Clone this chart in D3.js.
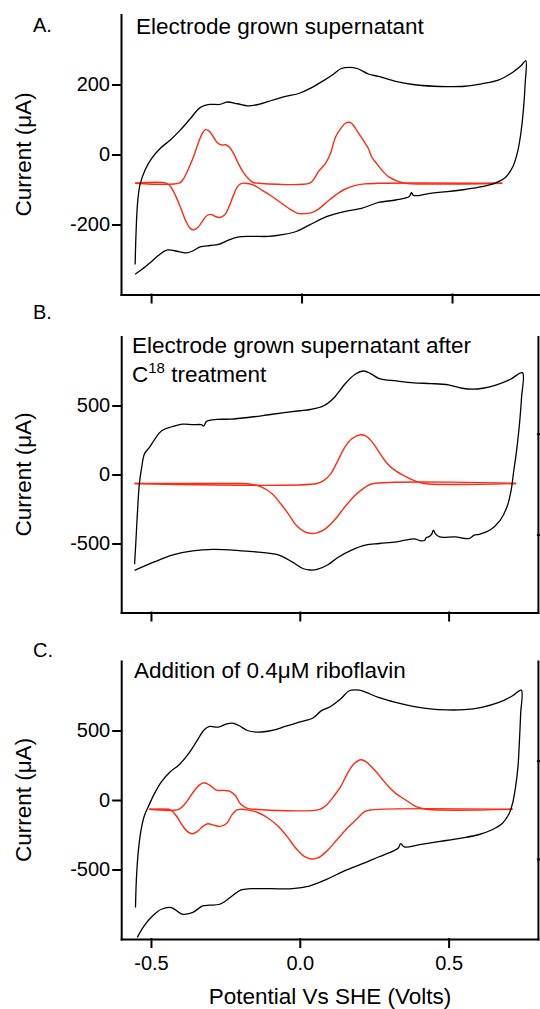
<!DOCTYPE html>
<html>
<head>
<meta charset="utf-8">
<script src="https://cdn.jsdelivr.net/npm/d3@7"></script>
<style>
  body { margin: 0; background: #fff; }
  svg { display: block; font-family: "Liberation Sans", Arial, sans-serif; }
  .axis path, .axis line { stroke: #000; stroke-width: 2; stroke-linecap: square; }
  .axis text { font-size: 20px; fill: #000; font-family: "Liberation Sans", Arial, sans-serif; }
</style>
</head>
<body>
<div id="vis"></div>
<script>
// potential (V vs SHE), current (uA)

// panel A - electrode grown supernatant
var cvA = [[-0.553,-314],[-0.550,-224],[-0.545,-139],[-0.537,-87],[-0.520,-44],[-0.498,-11],[-0.470,17],[-0.437,41],[-0.404,69],[-0.370,102],[-0.337,134],[-0.304,143],[-0.271,143],[-0.247,150],[-0.213,145],[-0.178,139],[-0.144,143],[-0.098,155],[-0.053,166],[-0.007,175],[0.027,188],[0.073,211],[0.107,230],[0.130,245],[0.159,249],[0.187,245],[0.222,230],[0.256,223],[0.313,209],[0.370,200],[0.439,195],[0.485,194],[0.542,195],[0.599,202],[0.656,213],[0.702,235],[0.730,254],[0.745,268],
  [0.743,202],[0.738,136],[0.730,69],[0.719,12],[0.702,-35],[0.679,-64],[0.645,-81],[0.599,-92],[0.542,-100],[0.485,-106],[0.427,-111],[0.372,-117],[0.365,-109],[0.358,-120],[0.313,-130],[0.256,-137],[0.199,-154],[0.142,-163],[0.085,-177],[0.027,-201],[-0.018,-220],[-0.064,-229],[-0.110,-234],[-0.167,-234],[-0.213,-236],[-0.247,-246],[-0.276,-257],[-0.304,-260],[-0.337,-264],[-0.360,-275],[-0.381,-281],[-0.405,-278],[-0.448,-273],[-0.475,-288],[-0.503,-309],[-0.530,-328],[-0.553,-342]];
var oxA = [[-0.553,-82],[-0.407,-82],[-0.395,-73],[-0.378,-45],[-0.361,-11],[-0.344,31],[-0.329,62],[-0.319,71],[-0.306,66],[-0.293,50],[-0.279,33],[-0.264,27],[-0.253,28],[-0.241,22],[-0.226,3],[-0.210,-26],[-0.195,-49],[-0.178,-68],[-0.161,-80],[-0.144,-82],[0.027,-82],[0.039,-73],[0.056,-49],[0.079,-26],[0.096,3],[0.113,50],[0.130,74],[0.147,90],[0.159,92],[0.170,86],[0.187,64],[0.205,41],[0.222,17],[0.233,-7],[0.250,-26],[0.267,-45],[0.290,-64],[0.319,-76],[0.347,-82],[0.667,-82]];
var rdA = [[0.667,-82],[0.256,-82],[0.210,-84],[0.176,-89],[0.142,-100],[0.113,-116],[0.085,-135],[0.056,-156],[0.033,-166],[0.010,-169],[-0.013,-168],[-0.035,-158],[-0.064,-141],[-0.098,-120],[-0.133,-101],[-0.161,-87],[-0.187,-82],[-0.201,-83],[-0.213,-92],[-0.226,-116],[-0.241,-149],[-0.256,-173],[-0.272,-180],[-0.287,-177],[-0.302,-171],[-0.315,-175],[-0.330,-191],[-0.344,-208],[-0.358,-215],[-0.370,-211],[-0.384,-191],[-0.401,-154],[-0.418,-119],[-0.435,-92],[-0.450,-82],[-0.553,-82]];

// panel B - after C18 treatment
var cvB = [[-0.555,-650],[-0.551,-500],[-0.545,-260],[-0.539,-67],[-0.531,53],[-0.522,149],[-0.505,197],[-0.487,257],[-0.464,317],[-0.429,346],[-0.394,365],[-0.360,361],[-0.331,361],[-0.323,351],[-0.313,385],[-0.278,399],[-0.232,401],[-0.174,413],[-0.104,433],[-0.046,450],[0.000,462],[0.035,471],[0.081,498],[0.116,558],[0.151,654],[0.186,726],[0.215,750],[0.238,731],[0.267,695],[0.325,678],[0.383,664],[0.441,659],[0.499,649],[0.545,625],[0.580,618],[0.615,625],[0.661,649],[0.708,690],[0.748,738],
  [0.745,558],[0.737,341],[0.727,149],[0.719,29],[0.710,-115],[0.696,-236],[0.673,-332],[0.638,-404],[0.603,-433],[0.586,-440],[0.568,-464],[0.522,-452],[0.470,-452],[0.455,-428],[0.449,-404],[0.443,-433],[0.433,-452],[0.425,-457],[0.420,-476],[0.408,-481],[0.383,-466],[0.325,-488],[0.267,-500],[0.220,-512],[0.174,-548],[0.128,-601],[0.093,-656],[0.058,-688],[0.035,-692],[0.012,-683],[-0.023,-637],[-0.070,-584],[-0.128,-565],[-0.197,-553],[-0.290,-543],[-0.360,-553],[-0.429,-584],[-0.487,-632],[-0.555,-695]];
var oxB = [[-0.555,-65],[0.058,-65],[0.081,-43],[0.104,5],[0.128,101],[0.151,197],[0.174,257],[0.203,288],[0.220,281],[0.244,233],[0.267,161],[0.290,89],[0.313,41],[0.348,-7],[0.383,-43],[0.418,-65],[0.727,-65]];
var rdB = [[0.727,-65],[0.244,-67],[0.220,-91],[0.186,-151],[0.151,-236],[0.116,-332],[0.087,-392],[0.058,-423],[0.041,-428],[0.017,-416],[-0.012,-368],[-0.035,-296],[-0.064,-212],[-0.093,-139],[-0.128,-91],[-0.174,-67],[-0.197,-65],[-0.555,-65]];
var rtB = [295, -435];

// panel C - addition of 0.4 uM riboflavin
var cvC = [[-0.552,-774],[-0.549,-571],[-0.543,-381],[-0.535,-238],[-0.523,-119],[-0.509,-48],[-0.488,48],[-0.465,131],[-0.436,202],[-0.407,250],[-0.378,321],[-0.355,393],[-0.338,452],[-0.321,505],[-0.303,529],[-0.274,524],[-0.245,548],[-0.222,552],[-0.199,529],[-0.176,500],[-0.141,488],[-0.095,500],[-0.049,529],[-0.002,560],[0.044,590],[0.073,643],[0.102,671],[0.137,726],[0.166,786],[0.200,790],[0.223,774],[0.264,738],[0.322,702],[0.380,674],[0.438,655],[0.495,648],[0.553,650],[0.611,667],[0.669,702],[0.715,750],[0.744,790],
  [0.742,619],[0.738,429],[0.733,238],[0.725,95],[0.715,-24],[0.704,-95],[0.681,-167],[0.646,-214],[0.600,-250],[0.542,-274],[0.472,-298],[0.403,-321],[0.351,-338],[0.339,-314],[0.331,-345],[0.299,-381],[0.264,-410],[0.218,-452],[0.148,-512],[0.090,-571],[0.032,-619],[-0.025,-638],[-0.095,-638],[-0.164,-638],[-0.199,-648],[-0.234,-702],[-0.269,-750],[-0.303,-757],[-0.326,-762],[-0.361,-810],[-0.396,-821],[-0.431,-774],[-0.465,-786],[-0.494,-833],[-0.523,-905],[-0.546,-988]];
var oxC = [[-0.506,-67],[-0.407,-67],[-0.384,-24],[-0.361,48],[-0.338,107],[-0.321,124],[-0.303,107],[-0.280,71],[-0.257,69],[-0.236,64],[-0.216,31],[-0.199,-29],[-0.176,-60],[-0.153,-67],[0.067,-67],[0.090,-36],[0.113,24],[0.137,95],[0.160,190],[0.183,262],[0.206,290],[0.223,274],[0.252,214],[0.275,155],[0.299,95],[0.322,48],[0.356,0],[0.391,-48],[0.426,-67],[0.715,-67]];
var rdC = [[0.715,-67],[0.241,-71],[0.218,-83],[0.194,-131],[0.160,-202],[0.125,-286],[0.090,-369],[0.061,-417],[0.038,-424],[0.015,-405],[-0.014,-345],[-0.043,-262],[-0.072,-190],[-0.106,-131],[-0.141,-90],[-0.176,-71],[-0.199,-67],[-0.211,-71],[-0.228,-107],[-0.245,-167],[-0.269,-190],[-0.292,-179],[-0.309,-171],[-0.326,-190],[-0.344,-226],[-0.361,-243],[-0.378,-226],[-0.396,-179],[-0.413,-119],[-0.431,-76],[-0.442,-67],[-0.506,-67]];
var rtC = [283, -424];

var xTicks = [-0.5, 0, 0.5];
var yTicksA = [-200, 0, 200];
var yTicksBC = [-500, 0, 500];

var width = 540, height = 1009;
var red = '#ff2a12';

var panels = [
  { letter: 'A.', letterY: 32, cv: cvA, ox: oxA, rd: rdA, ymax: 400, yticks: yTicksA,
    xr: [121, 542.3], yr: [294.5, 14.5], rt: null, xLabels: false,
    title: ['Electrode grown supernatant'], titleX: 136, titleY: 34 },
  { letter: 'B.', letterY: 319, cv: cvB, ox: oxB, rd: rdB, ymax: 1000, yticks: yTicksBC,
    xr: [121.2, 537.9], yr: [612.5, 336.5], rt: rtB, xLabels: false,
    title: ['Electrode grown supernatant after', 'C18'], titleX: 132, titleY: 353 },
  { letter: 'C.', letterY: 657, cv: cvC, ox: oxC, rd: rdC, ymax: 1000, yticks: yTicksBC,
    xr: [121.2, 537.9], yr: [939, 661], rt: rtC, xLabels: true,
    title: ['Addition of 0.4\u03bcM riboflavin'], titleX: 134, titleY: 678 }
];

var svg = d3.select('#vis').append('svg')
  .attr('width', width)
  .attr('height', height);

panels.forEach(function (p) {
  var x = d3.scaleLinear().domain([-0.6, 0.8]).range(p.xr);
  var y = d3.scaleLinear().domain([-p.ymax, p.ymax]).range(p.yr);
  var g = svg.append('g');

  var line = d3.line()
    .x(function (d) { return x(d[0]); })
    .y(function (d) { return y(d[1]); })
    .curve(d3.curveCatmullRom.alpha(0.5));

  // red traces first, black CV on top
  [p.ox, p.rd].forEach(function (tr) {
    g.append('path').datum(tr)
      .attr('d', line)
      .attr('fill', 'none')
      .attr('stroke', red)
      .attr('stroke-width', 1.4);
  });
  g.append('path').datum(p.cv)
    .attr('d', line)
    .attr('fill', 'none')
    .attr('stroke', '#000')
    .attr('stroke-width', 1.3);

  // axes
  g.append('g')
    .attr('class', 'axis')
    .attr('transform', 'translate(' + p.xr[0] + ',0)')
    .call(d3.axisLeft(y).tickValues(p.yticks).tickSize(8).tickSizeOuter(0).tickPadding(3)
      .tickFormat(function (d) { return String(d); }));

  var xa = g.append('g')
    .attr('class', 'axis')
    .attr('transform', 'translate(0,' + p.yr[0] + ')')
    .call(d3.axisBottom(x).tickValues(xTicks).tickSize(8).tickSizeOuter(0).tickPadding(9)
      .tickFormat(function (d) { return d.toFixed(1); }));
  if (!p.xLabels) xa.selectAll('text').remove();

  if (p.rt) {
    g.append('g')
      .attr('class', 'axis')
      .attr('transform', 'translate(' + p.xr[1] + ',0)')
      .call(d3.axisRight(y).tickValues(p.rt).tickSize(3).tickSizeOuter(0).tickFormat(''));
  }

  // y title
  g.append('text')
    .attr('transform', 'translate(31,' + y(0) + ') rotate(-90)')
    .attr('text-anchor', 'middle')
    .style('font-size', '22.5px')
    .text('Current (\u03bcA)');

  g.append('text')
    .attr('x', 33).attr('y', p.letterY)
    .style('font-size', '20px')
    .text(p.letter);

  if (p.title.length === 1) {
    g.append('text')
      .attr('x', p.titleX).attr('y', p.titleY)
      .style('font-size', '22.5px')
      .text(p.title[0]);
  } else {
    g.append('text')
      .attr('x', p.titleX).attr('y', p.titleY)
      .style('font-size', '22.5px')
      .text(p.title[0]);
    var t2 = g.append('text')
      .attr('x', p.titleX).attr('y', p.titleY + 28.5)
      .style('font-size', '22.5px');
    t2.append('tspan').text('C');
    t2.append('tspan').attr('dy', -9).style('font-size', '15px').text('18');
    t2.append('tspan').attr('dy', 9).text(' treatment');
  }
});

svg.append('text')
  .attr('x', 330).attr('y', 1004)
  .attr('text-anchor', 'middle')
  .style('font-size', '22.5px')
  .text('Potential Vs SHE (Volts)');
</script>
</body>
</html>
